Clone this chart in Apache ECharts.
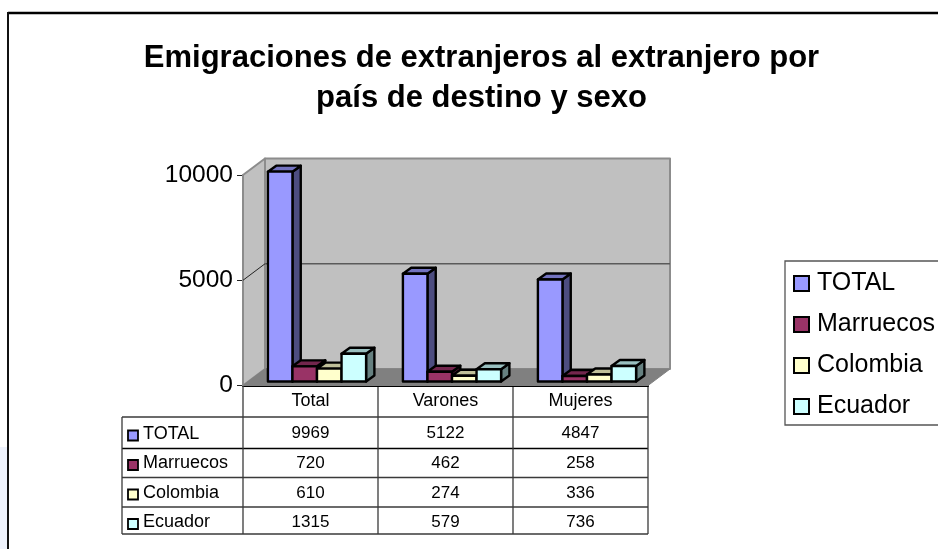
<!DOCTYPE html>
<html><head><meta charset="utf-8">
<style>html,body{margin:0;padding:0;background:#fff}#c{width:938px;height:549px}</style>
<script src="https://cdn.jsdelivr.net/npm/echarts@6/dist/echarts.min.js"></script>
</head><body><div id="c"></div>
<script>
const categories = ['Total', 'Varones', 'Mujeres'];
const seriesNames = ['TOTAL', 'Marruecos', 'Colombia', 'Ecuador'];
const total = [9969, 5122, 4847];
const marruecos = [720, 462, 258];
const colombia = [610, 274, 336];
const ecuador = [1315, 579, 736];
const colors = ['#9999ff', '#993366', '#ffffcc', '#ccffff'];
const yTicks = [0, 5000, 10000];
const values = [total, marruecos, colombia, ecuador];

const FONT = '"Liberation Sans", Arial, sans-serif';
const plot = {left: 243, right: 648, top: 175, bottom: 385.5};
const wallDepth = [22, 16.5];
const barStart = [6.5, 4];
const barDepth = [8.3, 6];
const gapWidth = 1.5;

function shade(hex, k) {
  const n = parseInt(hex.slice(1), 16);
  const c = [n >> 16 & 255, n >> 8 & 255, n & 255].map(v => Math.round(v * k));
  return 'rgb(' + c.join(',') + ')';
}
function poly(points, fill, stroke, lw, z2) {
  return {type: 'polygon', z2: z2 || 0, shape: {points}, style: {fill, stroke: stroke || 'none', lineWidth: lw || 0, lineJoin: 'round'}};
}
function seg(a, b, stroke, lw) {
  return {type: 'line', shape: {x1: a[0], y1: a[1], x2: b[0], y2: b[1]}, style: {stroke, lineWidth: lw}};
}
function renderWalls(params, api) {
  const g = params.coordSys;
  const dx = wallDepth[0], dy = wallDepth[1];
  const L = g.x, R = g.x + g.width, B = api.coord([0, yTicks[0]])[1], T = api.coord([0, yTicks[2]])[1];
  const mid = api.coord([0, yTicks[1]])[1];
  return {type: 'group', children: [
    poly([[L + dx, T - dy], [R + dx, T - dy], [R + dx, B - dy], [L + dx, B - dy]], '#c0c0c0', '#8c8c8c', 2),
    poly([[L, T], [L + dx, T - dy], [L + dx, B - dy], [L, B]], '#c0c0c0', '#8c8c8c', 2),
    poly([[L, B], [L + dx, B - dy], [R + dx, B - dy], [R, B]], '#808080', '#808080', 1),
    seg([L + dx, mid - dy], [R + dx, mid - dy], '#5a5a5a', 1.5),
    seg([L, mid], [L + dx, mid - dy], '#222', 1)
  ]};
}
function renderBar(params, api) {
  const s = params.seriesIndex - 1;
  const cat = api.value(0), v = api.value(1);
  const c = api.coord([cat, 0]);
  const band = api.size([1, 0])[0];
  const w = band / (seriesNames.length + gapWidth);
  const x0 = c[0] - w * seriesNames.length / 2 + s * w + barStart[0];
  const x1 = x0 + w;
  const yb = c[1] - barStart[1];
  const yt = api.coord([cat, v])[1] - barStart[1];
  const dx = barDepth[0], dy = barDepth[1];
  const col = colors[s];
  return {type: 'group', children: [
    poly([[x1, yt], [x1 + dx, yt - dy], [x1 + dx, yb - dy], [x1, yb]], shade(col, 0.5), '#000', 2.4),
    poly([[x0, yt], [x0 + dx, yt - dy], [x1 + dx, yt - dy], [x1, yt]], shade(col, 0.75), '#000', 2.4),
    poly([[x0, yt], [x1, yt], [x1, yb], [x0, yb]], col, '#000', 2.4)
  ]};
}

/* data table and page furniture */
const tableCols = [122, 243, 378, 513, 648];
const tableRows = [385.5, 417, 448.5, 477.5, 507, 534];
const labelCenters = [434.5, 463.5, 493.5, 522.5];
const numberCenters = [433.5, 463, 493, 522];
const keyCenters = [435.5, 465, 494.5, 524];
const tableColor = '#3a3a3a';
const graphics = [];
function gLine(x1, y1, x2, y2, stroke, lw) {
  graphics.push({type: 'line', silent: true, shape: {x1, y1, x2, y2}, style: {stroke, lineWidth: lw}});
}
function gText(x, y, text, align, size) {
  graphics.push({type: 'text', silent: true, x, y, style: {text, fill: '#000', font: size + 'px ' + FONT, textAlign: align, textVerticalAlign: 'middle'}});
}
graphics.push({type: 'rect', silent: true, shape: {x: 0, y: 447, width: 7, height: 102}, style: {fill: '#eef2fc'}});
gLine(8, 13, 938, 13, '#000', 2.5);
gLine(8, 12, 8, 549, '#111', 2);
tableRows.slice(1).forEach((y, i) => gLine(tableCols[0], y, tableCols[4], y, i === 1 ? '#000' : tableColor, 1.3));
gLine(tableCols[0], tableRows[1], tableCols[0], tableRows[5], tableColor, 1.3);
tableCols.slice(1).forEach(x => gLine(x, tableRows[0], x, tableRows[5], tableColor, 1.3));
seriesNames.forEach((name, i) => {
  graphics.push({type: 'rect', silent: true, shape: {x: 128, y: keyCenters[i] - 5, width: 10, height: 10}, style: {fill: colors[i], stroke: '#000', lineWidth: 1.8}});
  gText(143, labelCenters[i], name, 'left', 18);
  values[i].forEach((v, j) => gText((tableCols[j + 1] + tableCols[j + 2]) / 2, numberCenters[i], String(v), 'center', 17));
});

const chart = echarts.init(document.getElementById('c'), null, {renderer: 'canvas'});
chart.setOption({
  animation: false,
  backgroundColor: '#fff',
  title: {
    text: 'Emigraciones de extranjeros al extranjero por\npaís de destino y sexo',
    left: 476.5, top: 33, textAlign: 'center',
    textStyle: {fontFamily: FONT, fontWeight: 'bold', fontSize: 31, lineHeight: 40, color: '#000'}
  },
  legend: {
    orient: 'vertical', left: 785, top: 261, padding: [10, 30, 6, 8],
    data: seriesNames, itemWidth: 15, itemHeight: 15, itemGap: 16,
    backgroundColor: '#fff', borderColor: '#555', borderWidth: 1.3, borderRadius: 0,
    icon: 'rect',
    itemStyle: {borderColor: '#000', borderWidth: 2},
    textStyle: {fontFamily: FONT, fontSize: 25, color: '#000', padding: [0, 0, 0, 3]},
    selectedMode: false
  },
  grid: {left: plot.left, top: plot.top, width: plot.right - plot.left, height: plot.bottom - plot.top},
  xAxis: {
    type: 'category', data: categories,
    axisLine: {show: true, lineStyle: {color: '#000', width: 2}},
    axisTick: {show: false},
    axisLabel: {fontFamily: FONT, fontSize: 18, color: '#000', margin: 7}
  },
  yAxis: {
    type: 'value', min: yTicks[0], max: yTicks[2], interval: yTicks[1],
    axisLine: {show: true, lineStyle: {color: '#777', width: 1.5}},
    axisTick: {show: true, length: 6, lineStyle: {color: '#222', width: 1}},
    splitLine: {show: false},
    axisLabel: {fontFamily: FONT, fontSize: 24.5, color: '#000', margin: 10, formatter: v => String(v)}
  },
  graphic: graphics,
  series: [
    {type: 'custom', name: 'walls', silent: true, z: 1, clip: false, renderItem: renderWalls, data: [[0, 0]], encode: {x: 0, y: 1}},
  ].concat(seriesNames.map((name, s) => ({
    type: 'custom', name, z: 3 + s, clip: false, silent: true,
    itemStyle: {color: colors[s]},
    renderItem: renderBar,
    encode: {x: 0, y: 1},
    data: values[s].map((v, j) => [j, v])
  })))
});
</script></body></html>
